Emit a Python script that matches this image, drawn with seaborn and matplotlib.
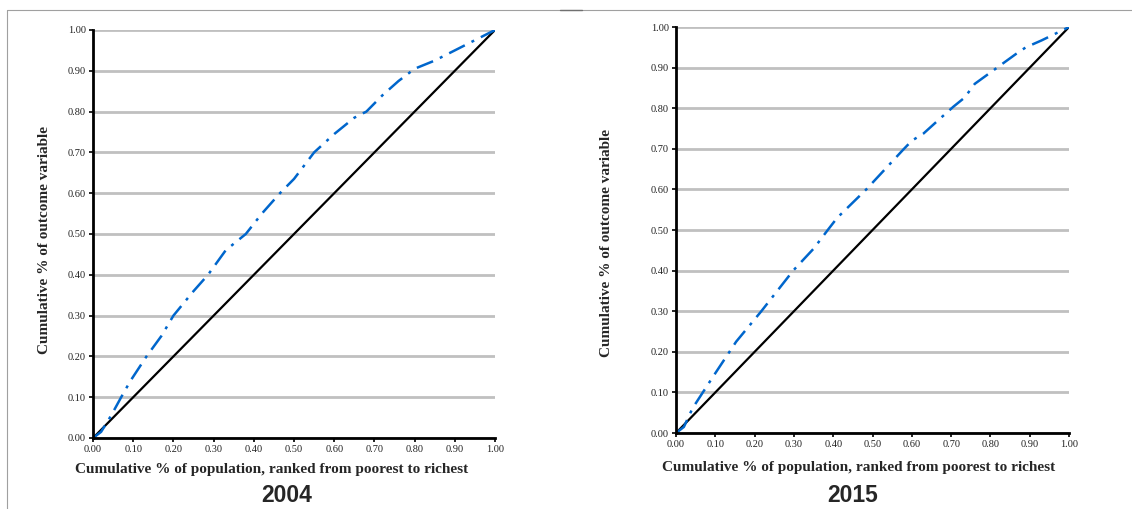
import numpy as np
import pandas as pd
import matplotlib.pyplot as plt
import matplotlib.lines as mlines
import seaborn as sns

sns.set_theme(style="white")
plt.rcParams['font.family'] = ['Liberation Serif', 'DejaVu Serif']

# concentration curve, 2004 (cumulative population share -> cumulative outcome share)
pop_2004 = [0.00, 0.02, 0.045, 0.07, 0.093, 0.133, 0.17, 0.20, 0.25, 0.286, 0.33,
            0.38, 0.42, 0.465, 0.50, 0.55, 0.60, 0.65, 0.68, 0.72, 0.76, 0.80,
            0.85, 0.90, 0.95, 1.00]
out_2004 = [0.00, 0.015, 0.055, 0.10, 0.14, 0.20, 0.25, 0.30, 0.36, 0.40, 0.46,
            0.50, 0.55, 0.60, 0.635, 0.70, 0.745, 0.785, 0.80, 0.84, 0.875, 0.905,
            0.925, 0.95, 0.975, 1.00]

# concentration curve, 2015
pop_2015 = [0.00, 0.02, 0.042, 0.097, 0.136, 0.153, 0.217, 0.298, 0.35, 0.386,
            0.41, 0.484, 0.58, 0.60, 0.63, 0.67, 0.706, 0.734, 0.76, 0.817,
            0.864, 0.89, 0.93, 1.00]
out_2015 = [0.00, 0.015, 0.061, 0.143, 0.20, 0.225, 0.30, 0.40, 0.454, 0.50,
            0.53, 0.60, 0.70, 0.72, 0.738, 0.773, 0.804, 0.826, 0.86, 0.90,
            0.933, 0.95, 0.967, 1.00]

equality = [0.0, 1.0]
ticks = [0.0, 0.1, 0.2, 0.3, 0.4, 0.5, 0.6, 0.7, 0.8, 0.9, 1.0]
years = ["2004", "2015"]

xlabel = "Cumulative % of population, ranked from poorest to richest"
ylabel = "Cumulative % of outcome variable"

fig = plt.figure(figsize=(11.32, 5.09), dpi=100)
ax_l = fig.add_axes([0.0822, 0.1395, 0.3551, 0.8016])
ax_r = fig.add_axes([0.5972, 0.1493, 0.3472, 0.7976])

panels = [(ax_l, pop_2004, out_2004), (ax_r, pop_2015, out_2015)]
for ax, px, oy in panels:
    for t in ticks:
        ax.axhline(t, color='#c0c0c0', lw=2.0, zorder=0)
    sns.lineplot(x=equality, y=equality, ax=ax, color='black', lw=1.6, zorder=3)
    curve = pd.DataFrame({"pop": px, "out": oy})
    sns.lineplot(data=curve, x="pop", y="out", ax=ax, color='#0066cc', lw=1.8,
                 linestyle=(0, (7, 3, 1.2, 3)), sort=False, zorder=4)
    ax.set_xlim(0, 1)
    ax.set_ylim(0, 1)
    ax.set_xticks(ticks)
    ax.set_yticks(ticks)
    ax.set_xticklabels([f"{t:.2f}" for t in ticks], fontsize=7.5)
    ax.set_yticklabels([f"{t:.2f}" for t in ticks], fontsize=7.5)
    ax.set_xlabel("")
    ax.set_ylabel("")
    for side in ['top', 'right']:
        ax.spines[side].set_visible(False)
    for side in ['left', 'bottom']:
        ax.spines[side].set_color('black')
        ax.spines[side].set_linewidth(2.0)
        ax.spines[side].set_zorder(5)
    ax.tick_params(axis='both', direction='out', length=3, width=1.2,
                   color='black', pad=2, labelcolor='#222222')
    ax.tick_params(left=True, bottom=True)
    ax.set_facecolor('none')

# axis labels and year captions as figure text
fig.text(272 / 1132, 1 - 469 / 509, xlabel, ha='center', va='center',
         fontsize=11, fontweight='bold')
fig.text(859 / 1132, 1 - 467 / 509, xlabel, ha='center', va='center',
         fontsize=11, fontweight='bold')
fig.text(45 / 1132, 1 - 240 / 509, ylabel, ha='center', va='center',
         rotation=90, fontsize=11, fontweight='bold')
fig.text(607 / 1132, 1 - 243 / 509, ylabel, ha='center', va='center',
         rotation=90, fontsize=11, fontweight='bold')
fig.text(287 / 1132, 1 - 496 / 509, years[0], ha='center', va='center',
         fontsize=16.5, fontweight='bold',
         family=['Liberation Sans Narrow', 'Liberation Sans'])
fig.text(853 / 1132, 1 - 496 / 509, years[1], ha='center', va='center',
         fontsize=16.5, fontweight='bold',
         family=['Liberation Sans Narrow', 'Liberation Sans'])

# page frame lines
fig.add_artist(mlines.Line2D([7 / 1132, 1], [1 - 9.5 / 509, 1 - 9.5 / 509],
                             color='#a0a0a0', lw=0.8))
fig.add_artist(mlines.Line2D([7 / 1132, 7 / 1132], [0, 1 - 9.5 / 509],
                             color='#a0a0a0', lw=0.8))
fig.add_artist(mlines.Line2D([560 / 1132, 582 / 1132], [1 - 9.5 / 509, 1 - 9.5 / 509],
                             color='#707070', lw=1.0))

fig.savefig("out.png", dpi=100)
